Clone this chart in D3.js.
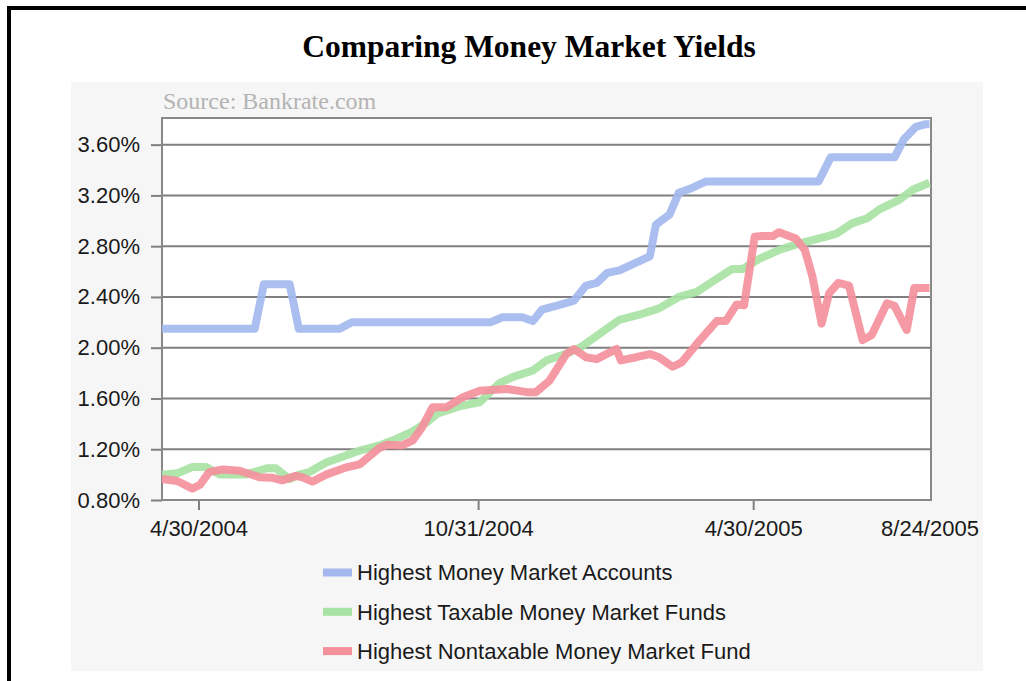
<!DOCTYPE html>
<html>
<head>
<meta charset="utf-8">
<script src="https://cdn.jsdelivr.net/npm/d3@7"></script>
<style>
  html, body { margin: 0; padding: 0; background: #fff; }
  svg { display: block; }
</style>
</head>
<body>
<svg id="chart" width="1026" height="681"></svg>
<script>
// Series names (legend order)
var seriesNames = [
    "Highest Money Market Accounts",
    "Highest Taxable Money Market Funds",
    "Highest Nontaxable Money Market Fund"
];
var seriesColors = ["#a4b8ef", "#a8e2a4", "#f4909c"];

// Highest Money Market Accounts
var mmaDates = ["2004-04-06", "2004-06-06", "2004-06-12", "2004-06-29", "2004-07-05", "2004-08-01",
    "2004-08-09", "2004-11-08", "2004-11-16", "2004-11-29", "2004-12-06", "2004-12-12", "2004-12-23",
    "2005-01-02", "2005-01-10", "2005-01-17", "2005-01-24", "2005-02-01", "2005-02-12", "2005-02-21",
    "2005-02-25", "2005-03-06", "2005-03-12", "2005-03-19", "2005-03-30", "2005-06-12", "2005-06-20",
    "2005-08-01", "2005-08-07", "2005-08-15", "2005-08-21", "2005-08-24"];
var mmaYields = [2.15, 2.15, 2.50, 2.50, 2.15, 2.15,
    2.20, 2.20, 2.24, 2.24, 2.21, 2.30, 2.335,
    2.37, 2.49, 2.51, 2.59, 2.61, 2.67, 2.72,
    2.97, 3.05, 3.22, 3.25, 3.31, 3.31, 3.50,
    3.50, 3.64, 3.74, 3.76, 3.76];

// Highest Taxable Money Market Funds
var taxDates = ["2004-04-06", "2004-04-16", "2004-04-26", "2004-05-05", "2004-05-14", "2004-05-31",
    "2004-06-14", "2004-06-20", "2004-06-29", "2004-07-05", "2004-07-12", "2004-07-23", "2004-08-05",
    "2004-08-14", "2004-08-27", "2004-09-05", "2004-09-18", "2004-09-27", "2004-10-04", "2004-10-19",
    "2004-11-01", "2004-11-14", "2004-11-23", "2004-12-06", "2004-12-15", "2004-12-25", "2005-01-06",
    "2005-01-19", "2005-02-01", "2005-02-14", "2005-02-27", "2005-03-12", "2005-03-24", "2005-04-03",
    "2005-04-16", "2005-04-23", "2005-05-04", "2005-05-17", "2005-05-30", "2005-06-17", "2005-06-24",
    "2005-07-04", "2005-07-14", "2005-07-22", "2005-08-04", "2005-08-13", "2005-08-24"];
var taxYields = [1.00, 1.01, 1.06, 1.06, 1.00, 1.00,
    1.05, 1.05, 0.965, 1.00, 1.02, 1.095, 1.15,
    1.19, 1.23, 1.27, 1.34, 1.41, 1.48, 1.54,
    1.57, 1.72, 1.77, 1.82, 1.90, 1.94, 2.00,
    2.11, 2.22, 2.26, 2.31, 2.40, 2.44, 2.52,
    2.62, 2.62, 2.70, 2.77, 2.82, 2.875, 2.90,
    2.98, 3.02, 3.09, 3.165, 3.245, 3.30];

// Highest Nontaxable Money Market Fund
var nonDates = ["2004-04-06", "2004-04-16", "2004-04-26", "2004-05-01", "2004-05-07", "2004-05-16",
    "2004-05-27", "2004-06-09", "2004-06-18", "2004-06-24", "2004-07-03", "2004-07-07", "2004-07-14",
    "2004-07-23", "2004-08-05", "2004-08-14", "2004-08-27", "2004-09-01", "2004-09-11", "2004-09-18",
    "2004-09-24", "2004-10-01", "2004-10-10", "2004-10-21", "2004-11-01", "2004-11-19", "2004-12-02",
    "2004-12-08", "2004-12-17", "2004-12-28", "2005-01-02", "2005-01-10", "2005-01-17", "2005-01-30",
    "2005-02-02", "2005-02-12", "2005-02-21", "2005-02-27", "2005-03-08", "2005-03-14", "2005-03-26",
    "2005-04-06", "2005-04-12", "2005-04-19", "2005-04-24", "2005-05-01", "2005-05-06", "2005-05-13",
    "2005-05-17", "2005-05-28", "2005-06-03", "2005-06-08", "2005-06-14", "2005-06-19", "2005-06-25",
    "2005-07-02", "2005-07-11", "2005-07-17", "2005-07-27", "2005-08-01", "2005-08-09", "2005-08-14",
    "2005-08-24"];
var nonYields = [0.965, 0.95, 0.89, 0.92, 1.02, 1.04,
    1.03, 0.98, 0.975, 0.955, 0.99, 0.98, 0.945,
    1.00, 1.056, 1.08, 1.21, 1.235, 1.23, 1.27,
    1.37, 1.53, 1.53, 1.61, 1.66, 1.675, 1.65,
    1.65, 1.74, 1.95, 1.99, 1.925, 1.91, 1.99,
    1.90, 1.925, 1.95, 1.925, 1.85, 1.885, 2.06,
    2.21, 2.21, 2.34, 2.335, 2.875, 2.88, 2.88,
    2.91, 2.86, 2.77, 2.56, 2.19, 2.43, 2.51,
    2.49, 2.06, 2.10, 2.35, 2.33, 2.14, 2.47,
    2.47];

// Axis ticks
var xTickDates = ["2004-04-30", "2004-10-31", "2005-04-30", "2005-08-24"];
var yTickValues = [0.8, 1.2, 1.6, 2.0, 2.4, 2.8, 3.2, 3.6];

var parseDate = d3.timeParse("%Y-%m-%d");

function toPoints(dates, values) {
    return dates.map(function(d, i) { return { date: parseDate(d), value: values[i] }; });
}

var series = [
    toPoints(mmaDates, mmaYields),
    toPoints(taxDates, taxYields),
    toPoints(nonDates, nonYields)
];

var svg = d3.select("#chart");

// Outer frame (only the top and left edges fall inside the picture)
svg.append("rect")
    .attr("x", 9).attr("y", 8)
    .attr("width", 1040).attr("height", 700)
    .attr("fill", "#fff")
    .attr("stroke", "#000")
    .attr("stroke-width", 4);

svg.append("text")
    .attr("x", 529)
    .attr("y", 57)
    .attr("text-anchor", "middle")
    .style("font-family", "'Liberation Serif', 'Times New Roman', serif")
    .style("font-weight", "bold")
    .style("font-size", "31.5px")
    .text("Comparing Money Market Yields");

// Grey chart panel
svg.append("rect")
    .attr("x", 71).attr("y", 82)
    .attr("width", 912).attr("height", 589)
    .attr("fill", "#f6f6f6");

svg.append("text")
    .attr("x", 163)
    .attr("y", 109)
    .style("font-family", "'Liberation Serif', serif")
    .style("font-size", "24px")
    .style("fill", "#b3b3b3")
    .text("Source: Bankrate.com");

var plot = { left: 162, right: 931, top: 118, bottom: 500 };

var x = d3.scaleTime()
    .domain([parseDate("2004-04-06"), parseDate("2005-08-25")])
    .range([plot.left, plot.right]);

var y = d3.scaleLinear()
    .domain([0.8, 3.81])
    .range([plot.bottom, plot.top]);

svg.append("rect")
    .attr("x", plot.left).attr("y", plot.top)
    .attr("width", plot.right - plot.left)
    .attr("height", plot.bottom - plot.top)
    .attr("fill", "#fff");

// Horizontal grid lines
svg.append("g")
    .selectAll("line")
    .data(yTickValues)
    .enter().append("line")
    .attr("x1", plot.left).attr("x2", plot.right)
    .attr("y1", function(d) { return y(d); })
    .attr("y2", function(d) { return y(d); })
    .attr("stroke", "#7f7f7f")
    .attr("stroke-width", 2);

var axisFont = "'Liberation Sans', Arial, sans-serif";

// Y axis
var yAxis = svg.append("g")
    .attr("transform", "translate(" + plot.left + ",0)")
    .call(d3.axisLeft(y)
        .tickValues(yTickValues)
        .tickSize(11)
        .tickPadding(11)
        .tickFormat(function(d) { return d.toFixed(2) + "%"; }));

// X axis
var xAxis = svg.append("g")
    .attr("transform", "translate(0," + plot.bottom + ")")
    .call(d3.axisBottom(x)
        .tickValues(xTickDates.map(parseDate))
        .tickSize(10)
        .tickPadding(10)
        .tickFormat(d3.timeFormat("%-m/%-d/%Y")));

// last date sits on the frame edge, no tick mark there
xAxis.selectAll(".tick").filter(function(d, i) { return i === xTickDates.length - 1; })
    .select("line").remove();

[yAxis, xAxis].forEach(function(g) {
    g.select(".domain").remove();
    g.selectAll("line").attr("stroke", "#7f7f7f").attr("stroke-width", 2);
    g.selectAll("text")
        .style("font-family", axisFont)
        .style("font-size", "22px")
        .style("fill", "#1a1a1a");
});

// Plot frame
svg.append("rect")
    .attr("x", plot.left).attr("y", plot.top)
    .attr("width", plot.right - plot.left)
    .attr("height", plot.bottom - plot.top)
    .attr("fill", "none")
    .attr("stroke", "#888")
    .attr("stroke-width", 2);

// Lines
var line = d3.line()
    .x(function(d) { return x(d.date); })
    .y(function(d) { return y(d.value); });

svg.append("g")
    .selectAll("path")
    .data(series)
    .enter().append("path")
    .attr("d", line)
    .attr("fill", "none")
    .attr("stroke", function(d, i) { return seriesColors[i]; })
    .attr("stroke-width", 8)
    .attr("stroke-linejoin", "round")
    .attr("stroke-opacity", 0.92);

// Legend
var legend = svg.append("g")
    .selectAll("g")
    .data(seriesNames)
    .enter().append("g")
    .attr("transform", function(d, i) { return "translate(323," + (572.5 + i * 39.3) + ")"; });

legend.append("rect")
    .attr("x", 0).attr("y", -4)
    .attr("width", 29).attr("height", 8)
    .attr("fill", function(d, i) { return seriesColors[i]; });

legend.append("text")
    .attr("x", 34)
    .attr("dy", "0.35em")
    .style("font-family", axisFont)
    .style("font-size", "22px")
    .style("fill", "#1a1a1a")
    .text(function(d) { return d; });
</script>
</body>
</html>
